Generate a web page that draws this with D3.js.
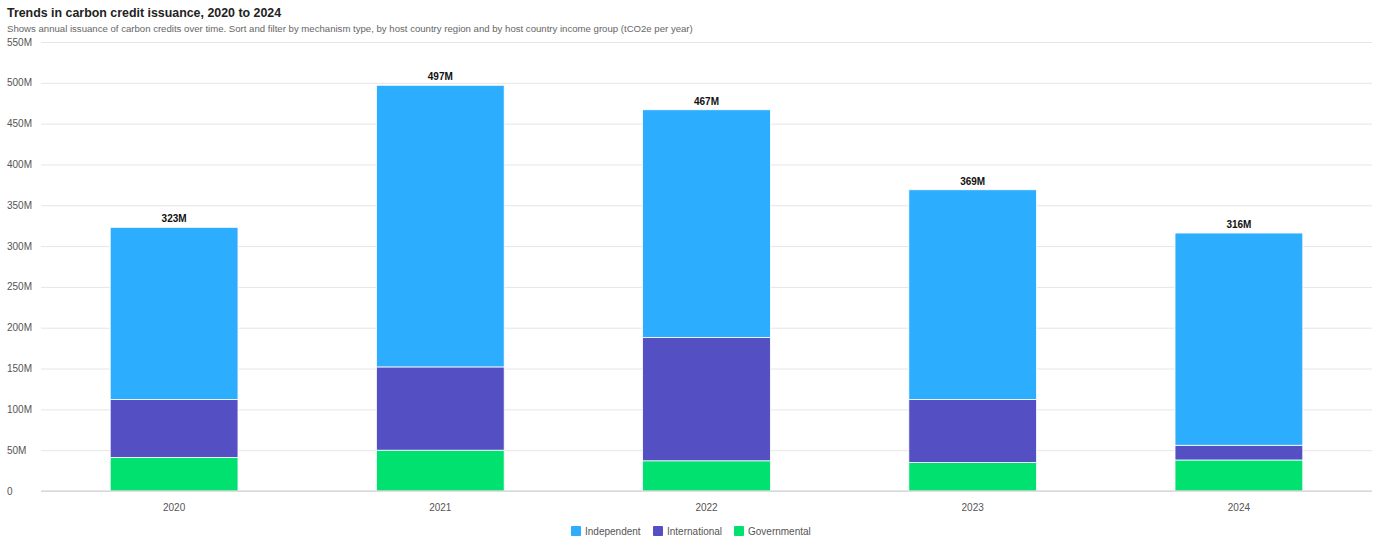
<!DOCTYPE html>
<html>
<head>
<meta charset="utf-8">
<script src="https://cdn.jsdelivr.net/npm/d3@7"></script>
<style>
  body { margin: 0; background: #fff; font-family: "Liberation Sans", Arial, sans-serif; }
  .grid line { stroke: #e6e6e6; }
  .grid path { display: none; }
</style>
</head>
<body>
<div class="chart"></div>
<script>
// values in millions tCO2e
const years = ["2020", "2021", "2022", "2023", "2024"];
const governmental = [41, 50, 37, 35, 38];
const international = [71, 102, 151, 77, 18];
const independent = [211, 345, 279, 257, 260];
const totals = [323, 497, 467, 369, 316];
const seriesNames = ["Governmental", "International", "Independent"];
const legendOrder = ["Independent", "International", "Governmental"];
const yTicks = [0, 50, 100, 150, 200, 250, 300, 350, 400, 450, 500, 550];

const colors = {
  Independent: "#2dadfe",
  International: "#5450c4",
  Governmental: "#00e170"
};

const width = 1379, height = 552;
const margin = ({top: 42, right: 7, bottom: 61, left: 41});

const svg = d3.select(".chart").append("svg")
  .attr("width", width)
  .attr("height", height);

svg.append("text")
  .attr("x", 7).attr("y", 17)
  .attr("font-size", 12.4).attr("font-weight", "bold").attr("fill", "#222")
  .text("Trends in carbon credit issuance, 2020 to 2024");
svg.append("text")
  .attr("x", 7).attr("y", 32)
  .attr("font-size", 9.6).attr("fill", "#666")
  .text("Shows annual issuance of carbon credits over time. Sort and filter by mechanism type, by host country region and by host country income group (tCO2e per year)");

const table = years.map((y, i) => ({
  year: y,
  Governmental: governmental[i],
  International: international[i],
  Independent: independent[i],
  total: totals[i]
}));

const x = d3.scaleBand()
  .domain(years)
  .range([margin.left, width - margin.right])
  .paddingInner(0.52)
  .paddingOuter(0.26);
const yScale = d3.scaleLinear()
  .domain([0, 550])
  .range([height - margin.bottom, margin.top]);

// gridlines
svg.append("g")
  .attr("class", "grid")
  .attr("transform", `translate(${margin.left},0)`)
  .call(d3.axisLeft(yScale).tickValues(yTicks).tickSize(-(width - margin.left - margin.right)).tickFormat(""));

// y labels
svg.append("g")
  .selectAll("text")
  .data(yTicks)
  .join("text")
  .attr("x", 7)
  .attr("y", d => yScale(d) + 3.5)
  .attr("font-size", 10)
  .attr("fill", "#555")
  .text(d => d === 0 ? "0" : d + "M");

const stacked = d3.stack().keys(seriesNames)(table);

svg.append("g")
  .selectAll("g")
  .data(stacked)
  .join("g")
  .attr("fill", d => colors[d.key])
  .selectAll("rect")
  .data(d => d)
  .join("rect")
  .attr("x", d => x(d.data.year))
  .attr("width", x.bandwidth())
  .attr("y", d => yScale(d[1]))
  .attr("height", d => yScale(d[0]) - yScale(d[1]))
  .attr("stroke", "#fff")
  .attr("stroke-width", 0.8);

// baseline
svg.append("line")
  .attr("x1", margin.left).attr("x2", width - margin.right)
  .attr("y1", yScale(0)).attr("y2", yScale(0))
  .attr("stroke", "#ccc");

// totals
svg.append("g")
  .selectAll("text")
  .data(table)
  .join("text")
  .attr("x", d => x(d.year) + x.bandwidth() / 2)
  .attr("y", d => yScale(d.total) - 5)
  .attr("text-anchor", "middle")
  .attr("font-size", 10).attr("font-weight", "bold").attr("fill", "#111")
  .text(d => d.total + "M");

// x labels
svg.append("g")
  .selectAll("text")
  .data(years)
  .join("text")
  .attr("x", d => x(d) + x.bandwidth() / 2)
  .attr("y", 511)
  .attr("text-anchor", "middle")
  .attr("font-size", 10).attr("fill", "#555")
  .text(d => d);

// legend
const legendX = [571, 653, 734];
const legend = svg.append("g")
  .selectAll("g")
  .data(legendOrder)
  .join("g")
  .attr("transform", (d, i) => `translate(${legendX[i]},526)`);
legend.append("rect")
  .attr("width", 10).attr("height", 10).attr("rx", 1)
  .attr("fill", d => colors[d]);
legend.append("text")
  .attr("x", 14).attr("y", 9)
  .attr("font-size", 10).attr("fill", "#555")
  .text(d => d);
</script>
</body>
</html>
